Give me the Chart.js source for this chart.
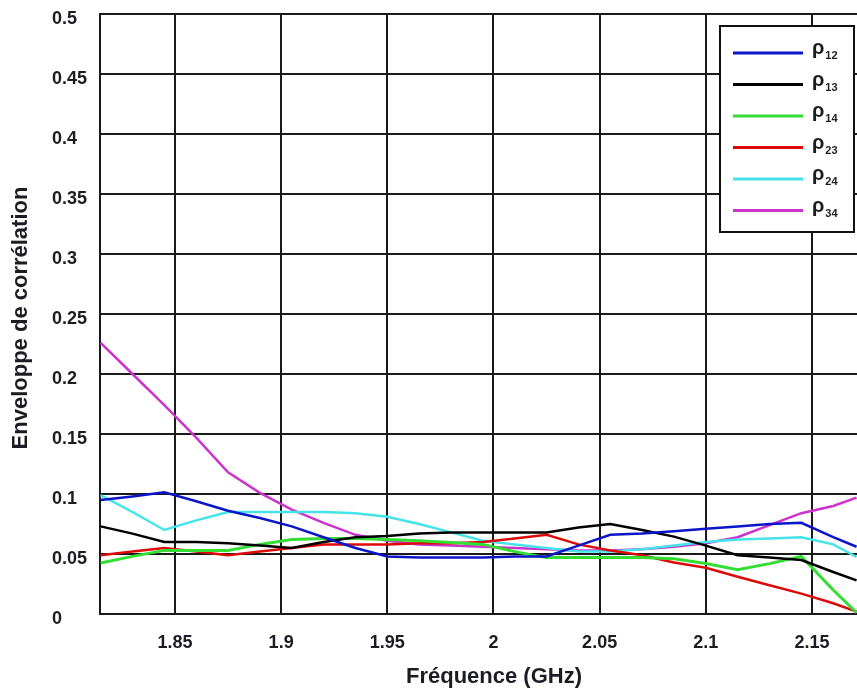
<!DOCTYPE html>
<html>
<head>
<meta charset="utf-8">
<script src="https://cdn.jsdelivr.net/npm/chart.js@4/dist/chart.umd.min.js"></script>
<style>
  html, body { margin: 0; padding: 0; background: #fff; }
  #wrap { width: 857px; height: 697px; }
</style>
</head>
<body>
<div id="wrap"><canvas id="corr-chart" width="857" height="697"></canvas></div>
<script>
// Frequencies (GHz) shared by all curves
const FREQ = [1.815, 1.83, 1.845, 1.86, 1.875, 1.89, 1.905, 1.92, 1.935, 1.95, 1.965, 1.98,
              1.995, 2.01, 2.025, 2.04, 2.055, 2.07, 2.085, 2.10, 2.115, 2.13, 2.145, 2.16, 2.171];

const RHO_12 = [0.095, 0.098, 0.1015, 0.094, 0.086, 0.080, 0.073, 0.064, 0.055, 0.048, 0.047, 0.047,
                0.047, 0.048, 0.048, 0.057, 0.066, 0.067, 0.069, 0.071, 0.073, 0.075, 0.076, 0.064, 0.056];
const RHO_13 = [0.073, 0.067, 0.060, 0.060, 0.059, 0.057, 0.055, 0.060, 0.064, 0.065, 0.067, 0.068,
                0.068, 0.068, 0.068, 0.072, 0.075, 0.070, 0.0645, 0.057, 0.049, 0.047, 0.045, 0.035, 0.028];
const RHO_14 = [0.0425, 0.048, 0.053, 0.053, 0.053, 0.058, 0.062, 0.063, 0.063, 0.062, 0.061, 0.0595,
                0.058, 0.052, 0.047, 0.047, 0.047, 0.047, 0.046, 0.042, 0.037, 0.042, 0.048, 0.020, 0.001];
const RHO_23 = [0.049, 0.052, 0.055, 0.052, 0.049, 0.052, 0.055, 0.058, 0.058, 0.058, 0.059, 0.059,
                0.060, 0.063, 0.066, 0.058, 0.053, 0.049, 0.043, 0.0385, 0.031, 0.024, 0.017, 0.009, 0.002];
const RHO_24 = [0.099, 0.085, 0.070, 0.078, 0.085, 0.085, 0.085, 0.085, 0.084, 0.081, 0.075, 0.068,
                0.061, 0.058, 0.055, 0.052, 0.052, 0.054, 0.057, 0.060, 0.062, 0.063, 0.064, 0.058, 0.0475];
const RHO_34 = [0.226, 0.200, 0.174, 0.147, 0.118, 0.101, 0.087, 0.076, 0.066, 0.061, 0.058, 0.057,
                0.056, 0.055, 0.054, 0.053, 0.053, 0.054, 0.056, 0.059, 0.064, 0.074, 0.084, 0.090, 0.097];

const SERIES     = [RHO_12, RHO_13, RHO_14, RHO_23, RHO_24, RHO_34];
const SERIES_SUB = ['12', '13', '14', '23', '24', '34'];
const COLORS     = ['#0a14c8', '#000000', '#33dd33', '#dd0a0a', '#44e4e8', '#cc33cc'];

const X_TICKS = [1.85, 1.9, 1.95, 2, 2.05, 2.1, 2.15];
const Y_TICKS = [0, 0.05, 0.1, 0.15, 0.2, 0.25, 0.3, 0.35, 0.4, 0.45, 0.5];

const X_TITLE = 'Fréquence (GHz)';
const Y_TITLE = 'Enveloppe de corrélation';

const FAMILY = '"Liberation Sans", Arial, sans-serif';
const TEXT = '#1c1c24';
const GRID = '#1a1a1a';

// Axis titles drawn by hand so the y tick labels can sit left-aligned
const axisTitles = {
    id: 'axisTitles',
    afterDraw(chart) {
        const { ctx, chartArea } = chart;
        ctx.save();
        ctx.fillStyle = TEXT;
        ctx.font = `bold 22px ${FAMILY}`;
        ctx.textAlign = 'center';
        ctx.textBaseline = 'middle';
        ctx.fillText(X_TITLE, 494, 677);
        ctx.translate(21, (chartArea.top + chartArea.bottom) / 2 + 4);
        ctx.rotate(-Math.PI / 2);
        ctx.fillText(Y_TITLE, 0, 0);
        ctx.restore();
    },
};

// Boxed legend with ρ and subscript indices
const rhoLegend = {
    id: 'rhoLegend',
    afterDraw(chart) {
        const ctx = chart.ctx;
        const bx = 720, by = 26, bw = 134, bh = 206;
        ctx.save();
        ctx.fillStyle = '#fff';
        ctx.fillRect(bx, by, bw, bh);
        ctx.strokeStyle = '#111';
        ctx.lineWidth = 2;
        ctx.strokeRect(bx, by, bw, bh);
        chart.data.datasets.forEach((ds, i) => {
            const y = by + 27 + i * 31.5;
            ctx.strokeStyle = ds.borderColor;
            ctx.lineWidth = 3;
            ctx.beginPath();
            ctx.moveTo(733, y);
            ctx.lineTo(803, y);
            ctx.stroke();
            ctx.fillStyle = TEXT;
            ctx.textAlign = 'left';
            ctx.textBaseline = 'alphabetic';
            ctx.font = `bold 20px ${FAMILY}`;
            ctx.fillText('ρ', 812, y + 1);
            const w = ctx.measureText('ρ').width;
            ctx.font = `bold 11px ${FAMILY}`;
            ctx.fillText(SERIES_SUB[i], 812 + w + 1, y + 6);
        });
        ctx.restore();
    },
};

const fmt = v => String(+Number(v).toFixed(3));

new Chart(document.getElementById('corr-chart'), {
    type: 'line',
    data: {
        datasets: SERIES.map((vals, i) => ({
            label: 'ρ' + SERIES_SUB[i],
            data: vals.map((v, j) => ({ x: FREQ[j], y: v })),
            borderColor: COLORS[i],
            borderWidth: i === 2 ? 3 : 2.5,
            pointRadius: 0,
            tension: 0,
            fill: false,
        })),
    },
    options: {
        responsive: false,
        animation: false,
        layout: { padding: { left: 52, top: 14, right: 0, bottom: 0 } },
        plugins: {
            legend: { display: false },
            tooltip: { enabled: false },
        },
        scales: {
            x: {
                type: 'linear',
                min: 1.8147,
                max: 2.1712,
                afterBuildTicks: s => { s.ticks = X_TICKS.map(v => ({ value: v })); },
                afterFit: s => { s.height = 83; },
                grid: { color: GRID, lineWidth: 2, drawTicks: false },
                border: { color: GRID, width: 2 },
                ticks: {
                    padding: 18,
                    maxRotation: 0,
                    color: TEXT,
                    font: { family: FAMILY, size: 18, weight: 'bold' },
                    callback: fmt,
                },
            },
            y: {
                min: 0,
                max: 0.5,
                afterBuildTicks: s => { s.ticks = Y_TICKS.map(v => ({ value: v })); },
                afterFit: s => { s.width = 48; },
                grid: { color: GRID, lineWidth: 2, drawTicks: false },
                border: { color: GRID, width: 2 },
                ticks: {
                    crossAlign: 'far',
                    labelOffset: 5,
                    color: TEXT,
                    font: { family: FAMILY, size: 18, weight: 'bold' },
                    callback: fmt,
                },
            },
        },
    },
    plugins: [axisTitles, rhoLegend],
});
</script>
</body>
</html>
